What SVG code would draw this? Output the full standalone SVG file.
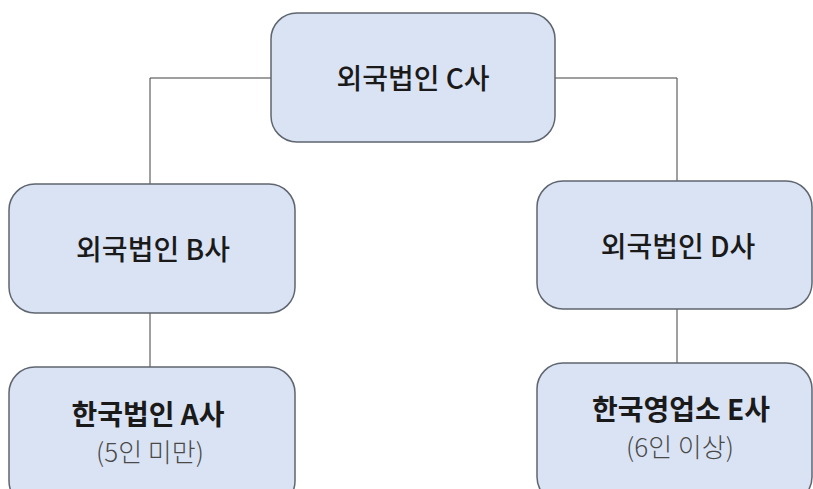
<svg xmlns="http://www.w3.org/2000/svg" width="813" height="489" viewBox="0 0 813 489">
<style>
.box{fill:#dae3f3;stroke:#5f6670;stroke-width:1.5}
.t{font-family:"Noto Sans CJK KR","Noto Sans",sans-serif;font-size:28px;font-weight:500;fill:#1a1a1a;text-anchor:middle;dominant-baseline:central}
.b{font-weight:bold}
.s{font-size:26px;fill:#4a4a4a;font-weight:300}
.ln{fill:none;stroke:#404040;stroke-width:1}
</style>
<rect width="813" height="489" fill="#ffffff"/>
<g id="connectors">
<path class="ln" d="M271 78 H150 V184"/>
<path class="ln" d="M555 78 H677 V181"/>
<path class="ln" d="M150 313 V367"/>
<path class="ln" d="M677 309 V363"/>
</g>
<g id="nodeC"><rect class="box" x="271" y="13" width="284" height="129" rx="26"/><text class="t" x="413" y="77">외국법인 C사</text></g>
<g id="nodeB"><rect class="box" x="9" y="184" width="286" height="129" rx="26"/><text class="t" x="153" y="248">외국법인 B사</text></g>
<g id="nodeD"><rect class="box" x="537" y="181" width="275" height="128" rx="26"/><text class="t" x="678" y="245">외국법인 D사</text></g>
<g id="nodeA"><rect class="box" x="9" y="367" width="286" height="140" rx="26"/><text class="t b" x="148" y="413">한국법인 A사</text><text class="t s" x="150" y="450">(5인 미만)</text></g>
<g id="nodeE"><rect class="box" x="537" y="363" width="275" height="140" rx="26"/><text class="t b" x="681" y="408">한국영업소 E사</text><text class="t s" x="680" y="445">(6인 이상)</text></g>
</svg>
